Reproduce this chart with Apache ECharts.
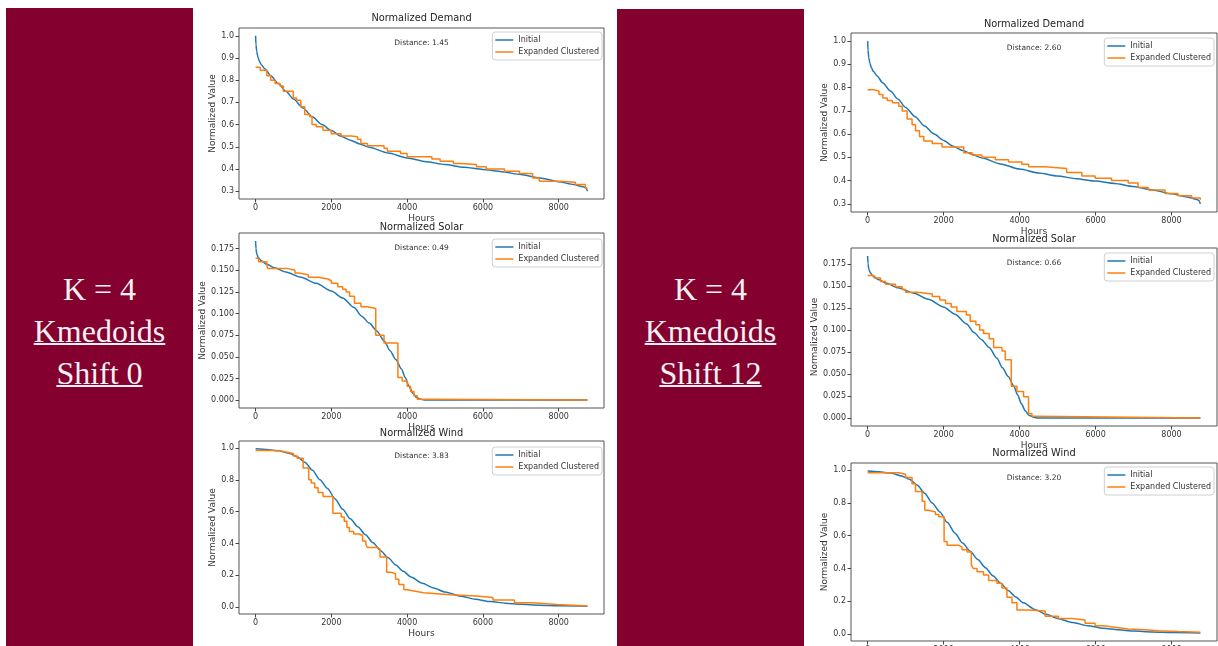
<!DOCTYPE html>
<html>
<head>
<meta charset="utf-8">
<script src="https://cdn.jsdelivr.net/npm/echarts@6/dist/echarts.min.js"></script>
<style>
  html, body { margin: 0; padding: 0; background: #fff; }
  #main { position: absolute; left: 0; top: 0; width: 1218px; height: 646px; }
  .panel { position: absolute; width: 187px; background: #83002f; }
  .panel-text { position: absolute; left: 0; width: 187px; top: 0; text-align: center;
    font-family: 'Liberation Serif', serif; font-size: 32px; line-height: 42px; color: #f6f0f2; }
  .panel-text .u { text-decoration: underline; text-decoration-thickness: 1.5px; }
</style>
</head>
<body>
<div id="main"></div>
<div class="panel" id="panel0" style="left:6px; top:8px; height:638px;"></div>
<div class="panel" id="panel1" style="left:617px; top:9px; height:637px;"></div>
<script>
// panel captions
const captionShift0 = ['K = 4', 'Kmedoids', 'Shift 0'];
const captionShift12 = ['K = 4', 'Kmedoids', 'Shift 12'];

const chartTitles = ['Normalized Demand', 'Normalized Solar', 'Normalized Wind'];
const distShift0 = ['1.45', '0.49', '3.83'];
const distShift12 = ['2.60', '0.66', '3.20'];

const hourTicks = [0, 2000, 4000, 6000, 8000];
const demandTicks = [0.3, 0.4, 0.5, 0.6, 0.7, 0.8, 0.9, 1.0];
const solarTicks = [0, 0.025, 0.05, 0.075, 0.1, 0.125, 0.15, 0.175];
const windTicks = [0, 0.2, 0.4, 0.6, 0.8, 1.0];

// initial duration curves [hour, value]
const demandInitial = [[0,1.0],[10,0.96],[30,0.93],[60,0.905],[100,0.885],[150,0.87],[250,0.85],[400,0.82],[600,0.785],[800,0.75],[1000,0.715],[1250,0.675],[1500,0.635],[1750,0.6],[2000,0.573],[2250,0.548],[2500,0.53],[2750,0.513],[3000,0.498],[3500,0.472],[4000,0.45],[4500,0.433],[5000,0.42],[5500,0.408],[6000,0.398],[6500,0.388],[7000,0.375],[7500,0.36],[8000,0.343],[8400,0.33],[8650,0.32],[8720,0.315],[8759,0.30]];
const solarInitial = [[0,0.184],[10,0.175],[30,0.169],[70,0.165],[150,0.161],[300,0.157],[500,0.153],[800,0.148],[1200,0.142],[1600,0.135],[2000,0.126],[2300,0.118],[2600,0.107],[2800,0.097],[3000,0.089],[3200,0.080],[3400,0.068],[3550,0.057],[3700,0.047],[3850,0.036],[3950,0.026],[4050,0.016],[4150,0.008],[4250,0.003],[4350,0.001],[4450,0],[8759,0]];
const windInitial = [[0,0.995],[300,0.99],[600,0.983],[900,0.965],[1100,0.945],[1300,0.91],[1500,0.86],[1700,0.80],[1900,0.745],[2100,0.68],[2300,0.615],[2500,0.555],[2700,0.505],[2900,0.455],[3100,0.405],[3300,0.355],[3500,0.31],[3700,0.265],[3900,0.225],[4100,0.19],[4400,0.15],[4700,0.12],[5000,0.095],[5400,0.07],[5800,0.05],[6200,0.035],[6600,0.025],[7000,0.018],[7500,0.012],[8000,0.009],[8759,0.006]];

// expanded clustered, shift 0 (step starts)
const demandShift0 = [[0,0.858],[122,0.845],[296,0.82],[400,0.80],[514,0.785],[645,0.774],[732,0.75],[993,0.72],[1081,0.71],[1194,0.68],[1298,0.645],[1429,0.635],[1490,0.60],[1603,0.59],[1778,0.575],[1996,0.559],[2257,0.549],[2519,0.545],[2693,0.534],[2780,0.515],[2954,0.505],[3390,0.494],[3477,0.48],[3826,0.47],[4000,0.455],[4654,0.445],[4871,0.435],[5220,0.425],[5394,0.42],[5830,0.41],[6092,0.40],[6571,0.39],[6963,0.38],[7312,0.36],[7486,0.345],[8009,0.34],[8444,0.33],[8706,0.315],[8759,0.315]];
const solarShift0 = [[0,0.164],[80,0.160],[296,0.156],[320,0.152],[860,0.150],[1040,0.147],[1130,0.145],[1390,0.142],[1650,0.140],[1910,0.138],[2000,0.135],[2170,0.131],[2300,0.128],[2390,0.125],[2480,0.120],[2610,0.112],[2780,0.108],[2950,0.106],[3172,0.075],[3390,0.066],[3756,0.026],[3869,0.022],[4000,0.016],[4090,0.010],[4180,0.005],[4270,0.001],[4350,0],[8759,0]];
const windShift0 = [[0,0.985],[600,0.975],[800,0.965],[1000,0.95],[1100,0.935],[1255,0.875],[1403,0.80],[1470,0.78],[1560,0.75],[1650,0.72],[1780,0.695],[2040,0.59],[2260,0.567],[2340,0.54],[2410,0.50],[2475,0.475],[2590,0.46],[2735,0.45],[2825,0.415],[2910,0.395],[2950,0.375],[3215,0.365],[3285,0.315],[3460,0.22],[3565,0.21],[3695,0.175],[3782,0.143],[3913,0.11],[4000,0.10],[4218,0.09],[4436,0.078],[5133,0.07],[5830,0.06],[6266,0.045],[6832,0.027],[7294,0.017],[7965,0.008],[8759,0.008]];

// expanded clustered, shift 12
const demandShift12 = [[0,0.791],[166,0.785],[300,0.77],[400,0.755],[516,0.745],[650,0.735],[820,0.72],[910,0.70],[1040,0.665],[1170,0.64],[1260,0.615],[1365,0.59],[1480,0.57],[1700,0.56],[1960,0.545],[2530,0.52],[2750,0.51],[3010,0.50],[3360,0.49],[3710,0.48],[4060,0.47],[4240,0.46],[4670,0.452],[5240,0.435],[5640,0.42],[5990,0.41],[6420,0.40],[6860,0.39],[7120,0.37],[7390,0.36],[7830,0.345],[8170,0.335],[8530,0.325],[8759,0.318]];
const solarShift12 = [[0,0.162],[166,0.159],[340,0.155],[470,0.152],[735,0.149],[910,0.146],[1000,0.143],[1300,0.141],[1700,0.138],[1900,0.134],[2050,0.130],[2200,0.126],[2350,0.121],[2600,0.117],[2700,0.110],[2850,0.106],[2950,0.100],[3050,0.096],[3200,0.090],[3317,0.080],[3536,0.076],[3624,0.066],[3781,0.036],[3930,0.030],[4105,0.024],[4236,0.005],[4324,0.002],[4411,0],[8759,0]];
const windShift12 = [[0,0.985],[820,0.975],[1000,0.955],[1170,0.918],[1260,0.87],[1435,0.81],[1505,0.755],[1610,0.745],[1785,0.73],[1873,0.715],[2013,0.565],[2090,0.541],[2400,0.53],[2485,0.514],[2617,0.50],[2730,0.42],[2780,0.40],[2880,0.38],[3050,0.36],[3185,0.327],[3405,0.31],[3535,0.28],[3667,0.224],[3800,0.19],[3930,0.147],[4236,0.14],[4674,0.108],[5024,0.095],[5374,0.085],[5724,0.065],[5987,0.05],[6206,0.04],[6556,0.03],[6862,0.025],[7300,0.02],[7650,0.015],[8175,0.01],[8759,0.008]];

// captions
[captionShift0, captionShift12].forEach(function (lines, i) {
    let box = document.createElement('div');
    box.className = 'panel-text';
    box.style.top = (i === 0 ? 260 : 259) + 'px';
    box.innerHTML = lines[0] + '<br><span class="u">' + lines[1] + '</span><br><span class="u">' + lines[2] + '</span>';
    document.getElementById('panel' + i).appendChild(box);
});

const FONT = 'DejaVu Sans';
const BLUE = '#1f77b4';
const ORANGE = '#ff7f0e';

const kinds = [
    { ticks: demandTicks, min: 0.265, max: 1.035, dec: 1, gap: 16 },
    { ticks: solarTicks, min: -0.0092, max: 0.1932, dec: 3, gap: 25 },
    { ticks: windTicks, min: -0.043, max: 1.044, dec: 1, gap: 16 }
];

// layout of the six plots
const cells = [
    { left: 239, top: 28, width: 365, height: 171, titleY: 19, legTop: 32, kind: 0, col: 0 },
    { left: 239, top: 233, width: 365, height: 175, titleY: 228, legTop: 239, kind: 1, col: 0 },
    { left: 239, top: 441, width: 365, height: 173, titleY: 434, legTop: 447, kind: 2, col: 0 },
    { left: 851, top: 33, width: 366, height: 179, titleY: 25, legTop: 38, kind: 0, col: 1 },
    { left: 851, top: 248, width: 366, height: 178, titleY: 240, legTop: 253, kind: 1, col: 1 },
    { left: 851, top: 463, width: 366, height: 178, titleY: 454, legTop: 467, kind: 2, col: 1 }
];

const initialSets = [demandInitial, solarInitial, windInitial];
const clusterSets = [[demandShift0, solarShift0, windShift0], [demandShift12, solarShift12, windShift12]];
const distSets = [distShift0, distShift12];

let grid = [], xAxis = [], yAxis = [], series = [], title = [], legend = [];

cells.forEach(function (c, i) {
    let k = kinds[c.kind];
    let cx = c.left + c.width / 2;
    grid.push({
        left: c.left, top: c.top, width: c.width, height: c.height,
        outerBoundsMode: 'none', containLabel: false,
        show: true, borderColor: '#555', borderWidth: 1, backgroundColor: 'transparent'
    });
    xAxis.push({
        type: 'value', gridIndex: i, min: -438, max: 9197,
        name: 'Hours', nameLocation: 'middle', nameGap: 15,
        nameTextStyle: { fontFamily: FONT, fontSize: 9, color: '#333' },
        axisLine: { show: false, onZero: false },
        axisTick: { show: true, length: 3.5, customValues: hourTicks, lineStyle: { color: '#444' } },
        axisLabel: {
            customValues: hourTicks, margin: 5, fontFamily: FONT, fontSize: 8, color: '#333',
            formatter: function (v) { return String(v); }
        },
        splitLine: { show: false }
    });
    yAxis.push({
        type: 'value', gridIndex: i, min: k.min, max: k.max,
        name: 'Normalized Value', nameLocation: 'middle', nameGap: k.gap,
        nameTextStyle: { fontFamily: FONT, fontSize: 9, color: '#333' },
        axisLine: { show: false, onZero: false },
        axisTick: { show: true, length: 3.5, customValues: k.ticks, lineStyle: { color: '#444' } },
        axisLabel: {
            customValues: k.ticks, margin: 5, fontFamily: FONT, fontSize: 8, color: '#333',
            formatter: function (v) { return v.toFixed(k.dec); }
        },
        splitLine: { show: false }
    });
    series.push({
        name: 'Initial', type: 'line', xAxisIndex: i, yAxisIndex: i,
        data: initialSets[c.kind], showSymbol: false, symbol: 'none',
        smooth: 0.25, smoothMonotone: 'x',
        lineStyle: { color: BLUE, width: 1.5 }, itemStyle: { color: BLUE }
    });
    series.push({
        name: 'Expanded Clustered', type: 'line', xAxisIndex: i, yAxisIndex: i,
        data: clusterSets[c.col][c.kind], step: 'end', showSymbol: false, symbol: 'none',
        lineStyle: { color: ORANGE, width: 1.5 }, itemStyle: { color: ORANGE }
    });
    title.push({
        text: chartTitles[c.kind], left: cx, top: c.titleY - 6, textAlign: 'center', padding: 0,
        textStyle: { fontFamily: FONT, fontSize: 9.8, fontWeight: 'normal', color: '#222' }
    });
    title.push({
        text: 'Distance: ' + distSets[c.col][c.kind], left: cx, top: c.top + 11, textAlign: 'center', padding: 0,
        textStyle: { fontFamily: FONT, fontSize: 7.5, fontWeight: 'normal', color: '#333' }
    });
    legend.push({
        orient: 'vertical', right: c.col === 0 ? 616 : 4, top: c.legTop,
        icon: 'rect', itemWidth: 18, itemHeight: 1.5, itemGap: 4, itemTextGap: 4,
        padding: [4, 3, 4, 3], borderColor: '#d0d0d0', borderWidth: 1, borderRadius: 3,
        backgroundColor: 'rgba(255,255,255,0.85)',
        textStyle: { fontFamily: FONT, fontSize: 8, color: '#333' },
        data: ['Initial', 'Expanded Clustered']
    });
});

let myChart = echarts.init(document.getElementById('main'));
myChart.setOption({
    animation: false,
    backgroundColor: '#fff',
    title: title,
    legend: legend,
    grid: grid,
    xAxis: xAxis,
    yAxis: yAxis,
    series: series
});
</script>
</body>
</html>
